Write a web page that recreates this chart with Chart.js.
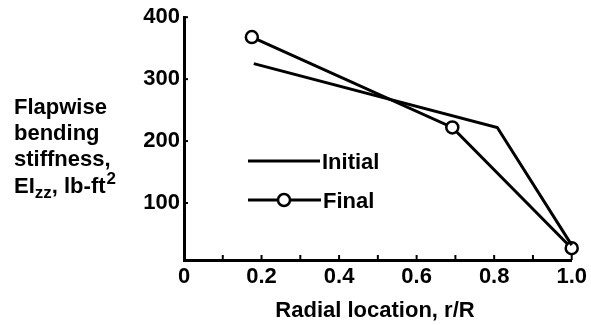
<!DOCTYPE html>
<html><head><meta charset="utf-8">
<script src="https://cdn.jsdelivr.net/npm/chart.js@4"></script>
<style>html,body{margin:0;padding:0;background:#fff}#wrap{width:591px;height:325px}</style>
</head><body><div id="wrap"><canvas id="c" width="591" height="325"></canvas></div>
<script>
const initialX = [0.18, 0.808, 1.0];
const initialY = [325, 222, 32];
const finalX = [0.175, 0.692, 1.0];
const finalY = [368, 222, 27];
const xTickValues = [0,0.1,0.2,0.3,0.4,0.5,0.6,0.7,0.8,0.9,1.0];
const xTickLabels = ["0","","0.2","","0.4","","0.6","","0.8","","1.0"];
const yTickValues = [100,200,300,400];
const yTickLabels = ["100","200","300","400"];
const seriesNames = ["Initial","Final"];
const xTitle = "Radial location, r/R";

const FONT = "'Liberation Sans', Arial, sans-serif";
const pts = (xs, ys) => xs.map((x,i)=>({x, y: ys[i]}));

const deco = {
  id: 'deco',
  afterDraw(chart) {
    const ctx = chart.ctx, xs = chart.scales.x, ys = chart.scales.y;
    ctx.save();
    ctx.strokeStyle = '#000'; ctx.lineWidth = 2;
    xTickValues.forEach(v => {
      if (v === 0) return;
      const px = xs.getPixelForValue(v);
      ctx.beginPath(); ctx.moveTo(px, chart.chartArea.bottom); ctx.lineTo(px, chart.chartArea.bottom - 5); ctx.stroke();
    });
    yTickValues.forEach(v => {
      const py = ys.getPixelForValue(v);
      ctx.beginPath(); ctx.moveTo(chart.chartArea.left, py); ctx.lineTo(chart.chartArea.left + 4, py); ctx.stroke();
    });
    ctx.fillStyle = '#000';
    ctx.textBaseline = 'alphabetic';
    ctx.textAlign = 'left';
    ctx.font = 'bold 22px ' + FONT;
    const lx = 14;
    ctx.fillText('Flapwise', lx, 114);
    ctx.fillText('bending', lx, 140);
    ctx.fillText('stiffness,', lx, 166);
    let x = lx;
    ctx.fillText('EI', x, 193); x += ctx.measureText('EI').width;
    ctx.font = 'bold 17px ' + FONT;
    ctx.fillText('zz', x, 198); x += ctx.measureText('zz').width;
    ctx.font = 'bold 22px ' + FONT;
    ctx.fillText(', lb-ft', x, 193); x += ctx.measureText(', lb-ft').width;
    ctx.font = 'bold 17px ' + FONT;
    ctx.fillText('2', x + 1, 184);
    ctx.font = 'bold 22px ' + FONT;
    ctx.textAlign = 'center';
    ctx.fillText(xTitle, 375, 317);
    ctx.textAlign = 'left';
    ctx.lineWidth = 3;
    ctx.beginPath(); ctx.moveTo(248, 161); ctx.lineTo(320, 161); ctx.stroke();
    ctx.fillText(seriesNames[0], 322, 169);
    ctx.beginPath(); ctx.moveTo(248, 200); ctx.lineTo(321, 200); ctx.stroke();
    ctx.beginPath(); ctx.arc(284, 200, 6, 0, Math.PI*2); ctx.fillStyle = '#fff'; ctx.fill(); ctx.lineWidth = 2.5; ctx.stroke();
    ctx.fillStyle = '#000';
    ctx.fillText(seriesNames[1], 323, 208);
    ctx.restore();
  }
};

new Chart(document.getElementById('c'), {
  type: 'line',
  data: {
    datasets: [
      { label: seriesNames[0], data: pts(initialX, initialY), borderColor: '#000', borderWidth: 3, pointRadius: 0, tension: 0, clip: false },
      { label: seriesNames[1], data: pts(finalX, finalY), borderColor: '#000', borderWidth: 3, pointRadius: 6, pointBorderWidth: 2.5, pointBackgroundColor: '#fff', pointBorderColor: '#000', tension: 0, clip: false }
    ]
  },
  options: {
    responsive: false, animation: false,
    layout: { padding: { top: 15, right: 18, left: 0, bottom: 0 } },
    plugins: { legend: { display: false }, tooltip: { enabled: false } },
    scales: {
      x: {
        type: 'linear', min: 0, max: 1.0,
        afterBuildTicks: s => { s.ticks = xTickValues.map(v => ({ value: v })); },
        afterFit: s => { s.height = 65; },
        grid: { display: false, drawTicks: false },
        border: { display: true, color: '#000', width: 3 },
        ticks: { color: '#000', padding: 4, maxRotation: 0, autoSkip: false, font: { family: FONT, size: 22, weight: 'bold' },
          callback: (v, i) => xTickLabels[i] }
      },
      y: {
        type: 'linear', min: 8, max: 400,
        afterBuildTicks: s => { s.ticks = yTickValues.map(v => ({ value: v })); },
        afterFit: s => { s.width = 184; },
        grid: { display: false, drawTicks: false },
        border: { display: true, color: '#000', width: 3 },
        ticks: { color: '#000', padding: 4, font: { family: FONT, size: 22, weight: 'bold' },
          callback: (v, i) => yTickLabels[i] }
      }
    }
  },
  plugins: [deco]
});
</script></body></html>
